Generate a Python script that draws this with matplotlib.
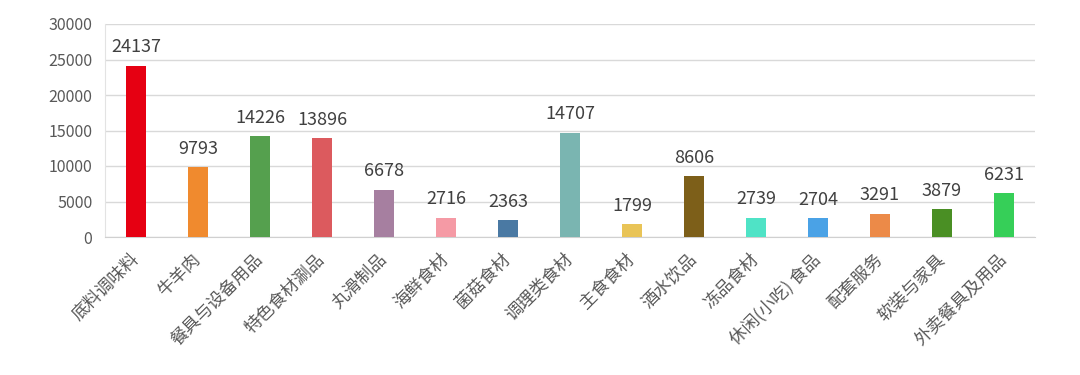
import matplotlib.pyplot as plt

plt.rcParams['font.family'] = ['Noto Sans CJK SC', 'DejaVu Sans']

# categories and values
categories = ['底料调味料', '牛羊肉', '餐具与设备用品', '特色食材涮品', '丸滑制品',
              '海鲜食材', '菌菇食材', '调理类食材', '主食食材', '酒水饮品',
              '冻品食材', '休闲(小吃) 食品', '配套服务', '软装与家具', '外卖餐具及用品']
values = [24137, 9793, 14226, 13896, 6678, 2716, 2363, 14707, 1799, 8606,
          2739, 2704, 3291, 3879, 6231]
colors = ['#E60012', '#F08A2E', '#55A04E', '#DC5A5E', '#A67FA0', '#F59AA5',
          '#4A79A3', '#7AB5B1', '#E9C457', '#7D5F19', '#4FE3C6', '#4AA2E6',
          '#EC8A48', '#4A8F24', '#36CF58']
yticks = [0, 5000, 10000, 15000, 20000, 25000, 30000]

fig = plt.figure(figsize=(10.8, 3.75), dpi=100)
ax = fig.add_axes([105 / 1080, 0.368, 930 / 1080, 0.568])

x = range(len(categories))
ax.bar(x, values, width=0.32, color=colors, zorder=3)

for xi, v in zip(x, values):
    ax.text(xi, v + 1300, str(v), ha='center', va='bottom',
            fontsize=13, color='#404040')

ax.set_xlim(-0.5, len(categories) - 0.5)
ax.set_ylim(0, 30000)
ax.set_yticks(yticks)
ax.set_yticklabels([str(t) for t in yticks], fontsize=11.5, color='#595959')
ax.grid(axis='y', color='#D9D9D9', linewidth=1, zorder=0)

ax.set_xticks(list(x))
ax.set_xticklabels(categories, rotation=45, ha='right', va='center',
                   rotation_mode='anchor', fontsize=12.5, color='#595959')
ax.tick_params(axis='both', length=0)
ax.tick_params(axis='x', pad=14)
ax.tick_params(axis='y', pad=9)

for s in ['top', 'right']:
    ax.spines[s].set_visible(False)
ax.spines['left'].set_color('#E3E3E3')
ax.spines['bottom'].set_color('#D0D0D0')

fig.savefig('out.png', dpi=100)
